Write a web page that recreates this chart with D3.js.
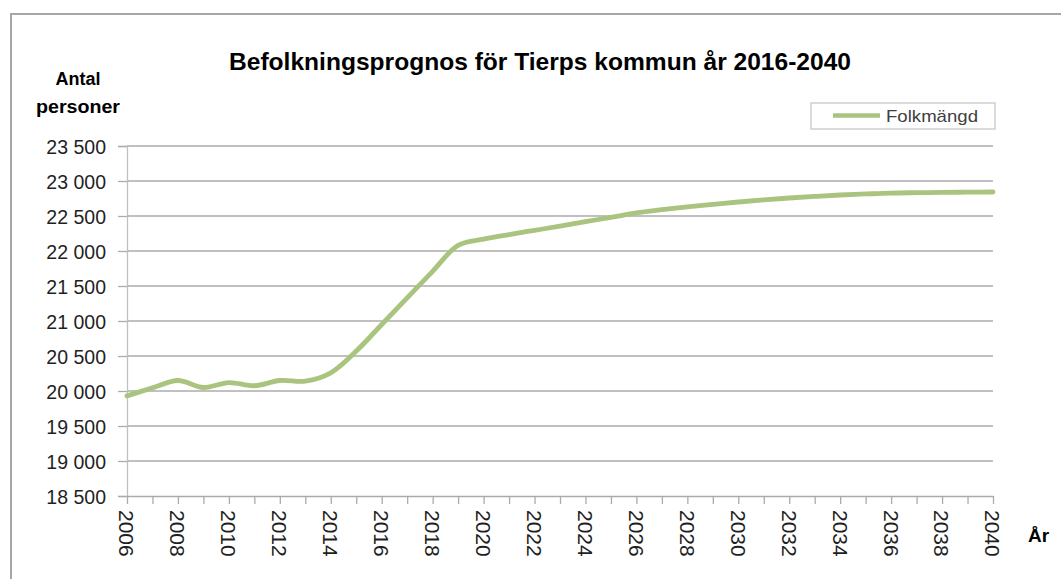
<!DOCTYPE html>
<html>
<head>
<meta charset="utf-8">
<script src="https://cdn.jsdelivr.net/npm/d3@7"></script>
<style>
  body { margin: 0; background: #fff; }
  svg { display: block; }
</style>
</head>
<body>
<div id="chart"></div>
<script>
// population forecast
const years = [2006, 2007, 2008, 2009, 2010, 2011, 2012, 2013, 2014, 2015, 2016, 2017, 2018, 2019, 2020,
  2021, 2022, 2023, 2024, 2025, 2026, 2027, 2028, 2029, 2030, 2031, 2032, 2033, 2034, 2035, 2036, 2037, 2038, 2039, 2040]
const folkmangd = [19930, 20045, 20150, 20050, 20120, 20075, 20150, 20140, 20260, 20570, 20950, 21330, 21710, 22080, 22170,
  22235, 22295, 22355, 22420, 22480, 22545, 22590, 22630, 22665, 22700, 22730, 22757, 22780, 22800, 22815, 22828, 22833, 22837, 22840, 22843]
const yTicks = [18500, 19000, 19500, 20000, 20500, 21000, 21500, 22000, 22500, 23000, 23500]
const xLabels = d3.range(2006, 2041, 2)

const width = 1061
const height = 579
const margin = { left: 127, right: 68, top: 146, bottom: 83 }

const svFormat = d3.formatLocale({ decimal: ",", thousands: "\u00a0", grouping: [3], currency: ["", " kr"] }).format(",")

const svg = d3.select("#chart").append("svg")
  .attr("width", width)
  .attr("height", height)

// outer chart frame (right and bottom edge run off the picture)
svg.append("rect")
  .attr("x", 11)
  .attr("y", 14)
  .attr("width", 1100)
  .attr("height", 620)
  .attr("fill", "none")
  .attr("stroke", "#a6a6a6")
  .attr("stroke-width", 2)

const x = d3.scaleLinear()
  .domain([2006, 2040])
  .range([margin.left, width - margin.right])

const y = d3.scaleLinear()
  .domain([18500, 23500])
  .range([height - margin.bottom, margin.top])

// gridlines
svg.append("g")
  .selectAll("line")
  .data(yTicks.slice(1))
  .enter()
  .append("line")
  .attr("x1", x(2006))
  .attr("x2", x(2040))
  .attr("y1", d => y(d))
  .attr("y2", d => y(d))
  .attr("stroke", "#ababab")
  .attr("stroke-width", 1.3)

// y axis
const yAxis = svg.append("g")
  .attr("transform", `translate(${x(2006)},0)`)
  .call(d3.axisLeft(y).tickValues(yTicks).tickFormat(svFormat).tickSize(9).tickPadding(12))
yAxis.select(".domain").attr("stroke", "#c0c0c0").attr("stroke-width", 1.3)
yAxis.selectAll(".tick line").attr("stroke", "#ababab").attr("stroke-width", 1.3)
yAxis.selectAll("text")
  .attr("fill", "#1f1f1f")
  .style("font-family", "'Liberation Sans', Arial, sans-serif")
  .style("font-size", "19.5px")
  .attr("dy", "0.36em")

// x axis
const xAxis = svg.append("g")
  .attr("transform", `translate(0,${y(18500)})`)
  .call(d3.axisBottom(x).tickValues(years).tickFormat("").tickSize(8).tickSizeOuter(0))
xAxis.select(".domain").attr("stroke", "#ababab").attr("stroke-width", 1.3)
xAxis.selectAll(".tick line").attr("stroke", "#ababab").attr("stroke-width", 1.3)

svg.append("g")
  .selectAll("text")
  .data(xLabels)
  .enter()
  .append("text")
  .attr("transform", d => `translate(${x(d)},${y(18500) + 14}) rotate(90)`)
  .attr("dy", "0.36em")
  .attr("fill", "#1f1f1f")
  .style("font-family", "'Liberation Sans', Arial, sans-serif")
  .style("font-size", "21px")
  .text(d => d)

// the line
const line = d3.line()
  .x((d, i) => x(years[i]))
  .y(d => y(d))
  .curve(d3.curveCatmullRom.alpha(0.5))

svg.append("path")
  .datum(folkmangd)
  .attr("d", line)
  .attr("fill", "none")
  .attr("stroke", "#a9c47f")
  .attr("stroke-width", 4.8)
  .attr("stroke-linecap", "round")

// title and axis titles
svg.append("text")
  .attr("x", 540)
  .attr("y", 70)
  .attr("text-anchor", "middle")
  .attr("textLength", 622)
  .attr("lengthAdjust", "spacingAndGlyphs")
  .style("font-family", "'Liberation Sans', Arial, sans-serif")
  .style("font-weight", "bold")
  .style("font-size", "24px")
  .text("Befolkningsprognos för Tierps kommun år 2016-2040")

svg.append("text")
  .attr("x", 78)
  .attr("y", 85)
  .attr("text-anchor", "middle")
  .style("font-family", "'Liberation Sans', Arial, sans-serif")
  .style("font-weight", "bold")
  .style("font-size", "18px")
  .text("Antal")

svg.append("text")
  .attr("x", 78)
  .attr("y", 113)
  .attr("text-anchor", "middle")
  .attr("textLength", 84)
  .attr("lengthAdjust", "spacingAndGlyphs")
  .style("font-family", "'Liberation Sans', Arial, sans-serif")
  .style("font-weight", "bold")
  .style("font-size", "18px")
  .text("personer")

svg.append("text")
  .attr("x", 1028)
  .attr("y", 542)
  .style("font-family", "'Liberation Sans', Arial, sans-serif")
  .style("font-weight", "bold")
  .style("font-size", "19px")
  .text("År")

// legend
const legend = svg.append("g").attr("transform", "translate(811,103)")
legend.append("rect")
  .attr("width", 184)
  .attr("height", 26)
  .attr("fill", "#fff")
  .attr("stroke", "#c8c8c8")
  .attr("stroke-width", 1.3)
legend.append("line")
  .attr("x1", 22)
  .attr("x2", 69)
  .attr("y1", 12.5)
  .attr("y2", 12.5)
  .attr("stroke", "#a9c47f")
  .attr("stroke-width", 4.5)
legend.append("text")
  .attr("x", 75)
  .attr("y", 19)
  .attr("textLength", 92)
  .attr("lengthAdjust", "spacingAndGlyphs")
  .attr("fill", "#404040")
  .style("font-family", "'Liberation Sans', Arial, sans-serif")
  .style("font-size", "17px")
  .text("Folkmängd")
</script>
</body>
</html>
